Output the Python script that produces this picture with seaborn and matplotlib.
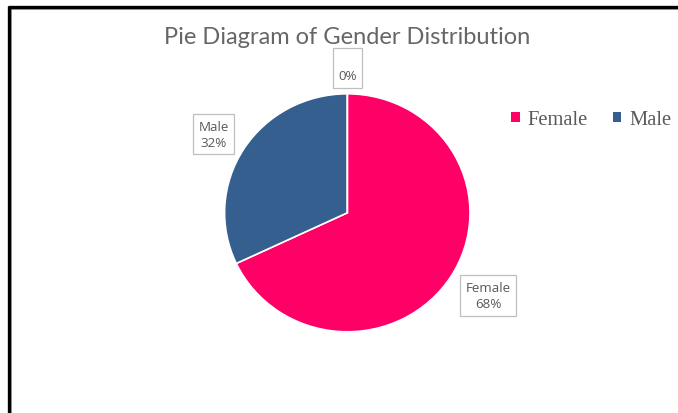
import matplotlib
matplotlib.use("Agg")
import matplotlib.pyplot as plt
import seaborn as sns
import numpy as np
from matplotlib.lines import Line2D
from matplotlib.patches import Patch

categories = ["Female", "Male", ""]
values = [68, 32, 0]
legend_labels = ["Female", "Male"]
colors = ["#FF0066", "#355F8F", "#A5A5A5"]
title = "Pie Diagram of Gender Distribution"

sns.set_theme(style="white")
plt.rcParams["font.family"] = ["Lato", "DejaVu Sans"]

W, H = 678, 414
fig = plt.figure(figsize=(W / 100, H / 100), dpi=100)
fig.patch.set_facecolor("white")

cx, cy, rx, ry = 347.3, 213.8, 122.7, 119
ax = fig.add_axes([(cx - rx) / W, (H - cy - ry) / H, 2 * rx / W, 2 * ry / H])
wedges, _ = ax.pie(values, colors=colors, startangle=90, counterclock=False,
                   radius=1.0, wedgeprops=dict(edgecolor="white", linewidth=1.2))
ax.set_xlim(-1, 1)
ax.set_ylim(-1, 1)
ax.set_aspect("auto")
ax.axis("off")

total = sum(values)
offsets = {0: (1.148, -0.695), 1: (-1.09, 0.66), 2: (0.0, 1.22)}
for i, (cat, v) in enumerate(zip(categories, values)):
    pct = f"{round(100 * v / total)}%"
    txt = f"{cat}\n{pct}"
    x, y = offsets[i]
    ax.text(x, y, txt, ha="center", va="center", fontsize=9.6, color="#595959",
            linespacing=1.35, family=["Open Sans", "DejaVu Sans"], clip_on=False,
            bbox=dict(boxstyle="square,pad=0.4", facecolor="white",
                      edgecolor="#BFBFBF", linewidth=0.9), zorder=5)

fig.text(cx / W, 1 - 37 / H, title, ha="center", va="center", fontsize=17,
         color="#666666", family=["Lato", "DejaVu Sans"], fontweight="normal")

handles = [Patch(facecolor=colors[i], edgecolor="none") for i in range(len(legend_labels))]
leg = fig.legend(handles, legend_labels, loc="center left",
                 bbox_to_anchor=(511 / W, 1 - 121 / H), ncol=2, frameon=False,
                 handlelength=0.42, handleheight=0.42, handletextpad=0.4,
                 columnspacing=1.2, borderpad=0, borderaxespad=0,
                 prop=dict(family="Liberation Serif", size=14.8))
for t in leg.get_texts():
    t.set_color("#595959")

# frame lines (top and left)
fig.add_artist(Line2D([10 / W, 1.0], [1 - 10 / H, 1 - 10 / H], color="#9A9A9A", lw=1.2,
                      transform=fig.transFigure))
fig.add_artist(Line2D([11 / W, 11 / W], [0, 1 - 10 / H], color="#9A9A9A", lw=1.2,
                      transform=fig.transFigure))
fig.add_artist(Line2D([8 / W, 1.0], [1 - 8 / H, 1 - 8 / H], color="black", lw=2.4,
                      transform=fig.transFigure, solid_capstyle="butt"))
fig.add_artist(Line2D([9 / W, 9 / W], [0, 1 - 7 / H], color="black", lw=2.4,
                      transform=fig.transFigure, solid_capstyle="butt"))

fig.savefig("out.png", dpi=100, facecolor="white")
